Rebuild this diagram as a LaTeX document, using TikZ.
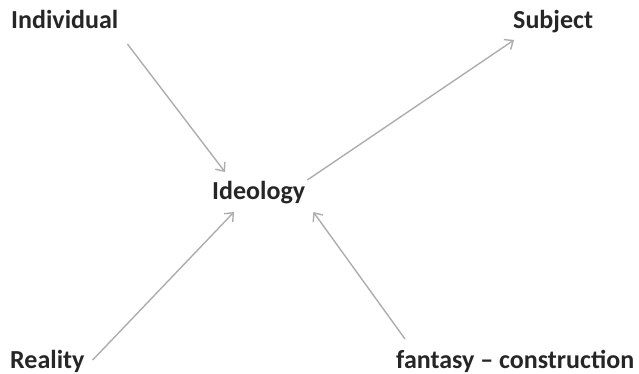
\documentclass[tikz,border=0pt]{standalone}
\usepackage{fontspec}
\setmainfont{Carlito}
\usetikzlibrary{arrows.meta, positioning, calc}

\begin{document}
\begin{tikzpicture}[
    x=1pt, y=-1pt,
    >={Straight Barb[length=7pt, width=12pt]}, % Open arrow tip
    word/.style={inner sep=0pt, anchor=base west, font=\fontsize{26}{30}\selectfont\bfseries, text=black!85}, % Style for the labels
    link/.style={->, line width=1.4pt, draw=black!32} % Style for the grey arrows
]
    \useasboundingbox (0,0) rectangle (639,373);

    % Labels
    \node[word] (ind)  at (11,28)   {Individual};
    \node[word] (subj) at (513,28)  {Subject};
    \node[word] (ideo) at (212,199) {Ideology};
    \node[word] (real) at (10,368)  {Reality};
    \node[word] (fant) at (396,368) {fantasy -- construction};

    % Arrows into and out of Ideology
    \draw[link] ($(ind.base east)+(9,16)$) -- ($(ideo.base west)+(13,-27)$);
    \draw[link] ($(ideo.base east)+(2,-19)$) -- ($(subj.base west)+(1,12)$);
    \draw[link] ($(real.base east)+(8,-8)$) -- ($(ideo.base west)+(22,13)$);
    \draw[link] ($(fant.base west)+(9,-29)$) -- ($(ideo.base east)+(8,13)$);

\end{tikzpicture}
\end{document}
